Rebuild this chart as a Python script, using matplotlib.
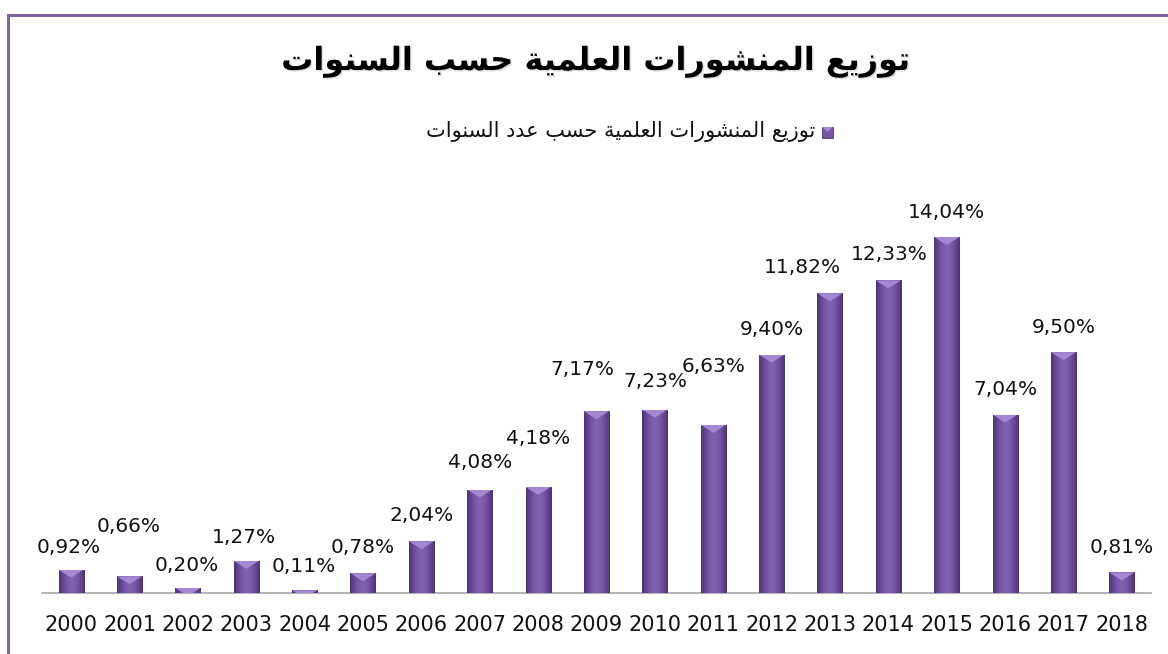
import numpy as np
import matplotlib
matplotlib.use('Agg')
import matplotlib.pyplot as plt
import matplotlib.patheffects as pe
from matplotlib.colors import LinearSegmentedColormap
from matplotlib.patches import Rectangle, Polygon

'''
bar chart of scientific publications per year (share of total, %)
'''

years = ['2000', '2001', '2002', '2003', '2004', '2005', '2006', '2007', '2008', '2009',
         '2010', '2011', '2012', '2013', '2014', '2015', '2016', '2017', '2018']
shares = [0.92, 0.66, 0.20, 1.27, 0.11, 0.78, 2.04, 4.08, 4.18, 7.17,
          7.23, 6.63, 9.40, 11.82, 12.33, 14.04, 7.04, 9.50, 0.81]

title_text = 'توزيع المنشورات العلمية حسب السنوات'
legend_text = 'توزيع المنشورات العلمية حسب عدد السنوات'

# label nudges in pixels (some labels are pushed aside so they don't collide)
label_dx = [-2, -1, -1, -2, -1, 0, 0, 0, 0, -14, 1, 0, 0, -28, 1, 0, 0, 0, 0]
label_dy = [22, 50, 22, 23, 24, 26, 26, 27, 49, 42, 28, 58, 25, 26, 26, 25, 25, 25, 25]

# matplotlib has no arabic shaping, so pick the presentation forms by hand
# (isolated, final, initial, medial); None = letter never joins to the left
AR_FORMS = {
    'ا': ('\uFE8D', '\uFE8E', None, None),
    'ب': ('\uFE8F', '\uFE90', '\uFE91', '\uFE92'),
    'ة': ('\uFE93', '\uFE94', None, None),
    'ت': ('\uFE95', '\uFE96', '\uFE97', '\uFE98'),
    'ح': ('\uFEA1', '\uFEA2', '\uFEA3', '\uFEA4'),
    'د': ('\uFEA9', '\uFEAA', None, None),
    'ر': ('\uFEAD', '\uFEAE', None, None),
    'ز': ('\uFEAF', '\uFEB0', None, None),
    'س': ('\uFEB1', '\uFEB2', '\uFEB3', '\uFEB4'),
    'ش': ('\uFEB5', '\uFEB6', '\uFEB7', '\uFEB8'),
    'ع': ('\uFEC9', '\uFECA', '\uFECB', '\uFECC'),
    'ل': ('\uFEDD', '\uFEDE', '\uFEDF', '\uFEE0'),
    'م': ('\uFEE1', '\uFEE2', '\uFEE3', '\uFEE4'),
    'ن': ('\uFEE5', '\uFEE6', '\uFEE7', '\uFEE8'),
    'و': ('\uFEED', '\uFEEE', None, None),
    'ي': ('\uFEF1', '\uFEF2', '\uFEF3', '\uFEF4'),
}


def shape_arabic(text):
    out = []
    for i, ch in enumerate(text):
        forms = AR_FORMS.get(ch)
        if forms is None:
            out.append(ch)
            continue
        prev = text[i-1] if i > 0 else None
        nxt = text[i+1] if i+1 < len(text) else None
        joins_prev = prev in AR_FORMS and AR_FORMS[prev][2] is not None
        joins_next = forms[2] is not None and nxt in AR_FORMS
        if joins_prev and joins_next:
            out.append(forms[3])
        elif joins_prev:
            out.append(forms[1])
        elif joins_next:
            out.append(forms[2])
        else:
            out.append(forms[0])
    # right-to-left -> visual order
    return ''.join(reversed(out))


plt.rcParams['font.family'] = ['DejaVu Sans']

W, H = 1168, 654
fig = plt.figure(figsize=(W/100, H/100), dpi=100)
ax = fig.add_axes([42/W, (H-593)/H, 1109/W, 393/H])

x = np.arange(len(years))
bars = ax.bar(x, shares, width=0.43, color='#7654a4', zorder=2)
ax.set_xlim(-0.5, len(years)-0.5)
ax.set_ylim(0, 15.5)

px_per_unit = ax.transData.transform((0, 1))[1] - ax.transData.transform((0, 0))[1]
bevel = 8 / px_per_unit

body_cmap = LinearSegmentedColormap.from_list(
    'bar_body', ['#4b3374', '#684896', '#7a59a9', '#8262b1', '#7a59a9', '#684896', '#4b3374'])
grad = np.linspace(0, 1, 64).reshape(1, -1)

for b in bars:
    x0, w, h = b.get_x(), b.get_width(), b.get_height()
    im = ax.imshow(grad, cmap=body_cmap, extent=(x0, x0+w, 0, h), aspect='auto',
                   interpolation='bicubic', zorder=3)
    im.set_clip_path(b)
    tri = Polygon([(x0, h), (x0+w, h), (x0+w/2, h-bevel)], closed=True,
                  facecolor='#a586d3', edgecolor='none', zorder=4)
    ax.add_patch(tri)
    tri.set_clip_path(b)

for xi, v, dx, dy in zip(x, shares, label_dx, label_dy):
    lbl = f'{v:.2f}'.replace('.', ',') + '%'
    ax.annotate(lbl, xy=(xi, v), xytext=(dx, dy), textcoords='offset pixels',
                ha='center', va='center', fontsize=14.5, color='#111111',
                annotation_clip=False)

for side in ['top', 'left', 'right']:
    ax.spines[side].set_visible(False)
ax.spines['bottom'].set_color('#a6a6a6')
ax.spines['bottom'].set_linewidth(1.2)
ax.set_yticks([])
ax.set_xticks(x)
ax.set_xticklabels(years, fontsize=15, color='#111111')
ax.tick_params(axis='x', length=0, pad=16)

# title with a soft drop shadow
fig.text(597/W, (H-62)/H, shape_arabic(title_text), fontsize=23, fontweight='bold',
         ha='center', va='center', color='black',
         path_effects=[pe.withSimplePatchShadow(offset=(1, -1), shadow_rgbFace='#999999', alpha=0.35)])

# legend entry: text on the left, marker on the right
fig.text(815/W, (H-132)/H, shape_arabic(legend_text), fontsize=15,
         ha='right', va='center', color='#111111')
fig.patches.append(Rectangle((822/W, (H-138)/H), 11/W, 11/H, transform=fig.transFigure,
                             facecolor='#7654a4', edgecolor='#4b3374', linewidth=0.6))
fig.patches.append(Polygon([(822/W, (H-127)/H), (833/W, (H-127)/H), (827.5/W, (H-132)/H)],
                           closed=True, transform=fig.transFigure,
                           facecolor='#a586d3', edgecolor='none'))

# chart area frame
fig.patches.append(Rectangle((7.5/W, -0.05), 1.1, (H-15)/H + 0.05, transform=fig.transFigure,
                             fill=False, edgecolor='#8064a2', linewidth=2.2))

fig.savefig('out.png', dpi=100)
